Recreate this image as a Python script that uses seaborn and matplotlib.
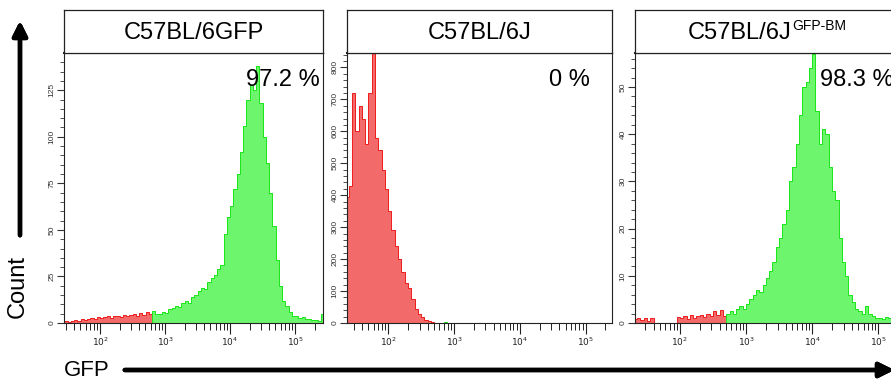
import numpy as np
import pandas as pd
import matplotlib
matplotlib.use('Agg')
import matplotlib.pyplot as plt
import seaborn as sns

sns.set_style('white')
plt.rcParams['font.family'] = ['Liberation Sans', 'DejaVu Sans']
plt.rcParams['text.color'] = 'black'

# ---- data (x = log10 GFP, bins of 0.05 decade, y = events per bin) ----
titles = ['C57BL/6GFP', 'C57BL/6J', 'C57BL/6J']
title_sup = ['', '', 'GFP-BM']
percent_labels = ['97.2 %', '0 %', '98.3 %']
bin_start = [1.45, 1.35, 1.30]
bin_width = 0.05
gate = [2.80, 2.80, 2.70]
y_max = [145, 845, 57.2]
y_major = [25, 100, 10]
y_minor = [5, 20, 2]
decades = [2, 3, 4, 5]

counts_gfp = [1, 0.5, 1, 1.5, 1, 2, 1.5, 2, 2.5, 2, 3, 2.5, 3, 3.5, 2.5, 3.5,
              4, 3, 4.5, 3.5, 4.5, 5, 4, 5.5, 4.5, 6, 5,
              6.5, 5, 5, 6, 5.5, 7.5, 8, 9, 8.5, 11, 12, 11, 14, 15, 17, 19,
              18, 22, 24, 26, 29, 31, 48, 57, 63, 72, 80, 92, 106, 120, 128,
              125, 138, 118, 100, 86, 70, 52, 34, 20, 12, 9, 6, 4, 3.5, 2.5,
              3, 2, 2, 1.5, 1.5, 1, 5]
counts_wt = [395, 430, 720, 600, 680, 640, 560, 720, 845, 580, 540, 480, 420,
             350, 290, 240, 200, 160, 125, 110, 75, 45, 28, 18, 10, 5, 3, 1.5,
             1, 1, 2, 1.5, 1]
counts_bm = [0.8, 1, 0.6, 1, 0.5, 1, 0, 0, 0, 0, 0, 0, 0, 1.3, 1, 1.5, 0.8,
             1.6, 1, 1.4, 1.8, 1.2, 2, 1.5, 2.6, 1.8, 2.8, 1.5,
             2, 2.5, 2, 3, 3.5, 3, 4, 5, 6, 7, 6.5, 8, 9.5, 11, 13, 16, 18,
             21, 24, 30, 33, 38, 44, 50, 51, 54, 57, 45, 38, 41, 40, 33, 28,
             26, 18, 13, 10, 6, 4.5, 3, 2.5, 2, 3.5, 2, 1.5, 1, 1, 0.8, 1.3,
             1, 0.8, 0.6, 0.5, 0.5, 1]
all_counts = [counts_gfp, counts_wt, counts_bm]

# ---- layout (figure pixels) ----
W, H = 891, 382
panel_x = [(64, 323), (347, 612), (635, 906)]
xlims = [(1.446, 5.43), (1.374, 5.40), (1.32, 5.42)]
ax_top, ax_bot, strip_top = 53, 323, 10

neg_fill, neg_line = '#f26a6a', '#ee1c1c'
pos_fill, pos_line = '#6df66d', '#19e619'

fig = plt.figure(figsize=(W / 100, H / 100), dpi=100)


def fx(px):
    return px / W


def fy(py):
    return (H - py) / H


for i in range(3):
    x0, x1 = panel_x[i]
    ax = fig.add_axes([fx(x0), fy(ax_bot), fx(x1 - x0), (ax_bot - ax_top) / H])
    counts = np.array(all_counts[i], dtype=float)
    left = bin_start[i] + bin_width * np.arange(len(counts))
    df = pd.DataFrame({'log_gfp': left + bin_width / 2, 'count': counts})
    edges = np.append(left, left[-1] + bin_width)
    n_neg = int((left < gate[i] - 1e-9).sum())

    sns.histplot(data=df.iloc[:n_neg], x='log_gfp', weights='count',
                 bins=edges[:n_neg + 1].tolist(), element='step', fill=True,
                 facecolor=neg_fill, edgecolor=neg_line, linewidth=0.7, ax=ax)
    if n_neg < len(df):
        sns.histplot(data=df.iloc[n_neg:], x='log_gfp', weights='count',
                     bins=edges[n_neg:].tolist(), element='step', fill=True,
                     facecolor=pos_fill, edgecolor=pos_line, linewidth=0.7, ax=ax)

    ax.set_xlim(*xlims[i])
    ax.set_ylim(0, y_max[i])
    ax.set_xlabel('')
    ax.set_ylabel('')

    ax.set_xticks(decades)
    ax.set_xticklabels([r'$10^{%d}$' % d for d in decades])
    minor = [np.log10(m * 10.0 ** k) for k in range(1, 6) for m in range(2, 10)]
    minor = [v for v in minor if xlims[i][0] <= v <= xlims[i][1]]
    ax.set_xticks(minor, minor=True)
    ax.set_yticks(np.arange(0, y_max[i], y_major[i]))
    ax.set_yticks(np.arange(0, y_max[i], y_minor[i]), minor=True)

    ax.tick_params(axis='x', which='major', direction='out', length=8, width=0.8,
                   pad=1, labelsize=6.5, colors='#222222', bottom=True)
    ax.tick_params(axis='x', which='minor', direction='out', length=5, width=0.7,
                   bottom=True, colors='#222222')
    ax.tick_params(axis='y', which='major', direction='out', length=5, width=0.8,
                   pad=1, labelsize=6, labelrotation=90, colors='#333333', left=True)
    ax.tick_params(axis='y', which='minor', direction='out', length=3, width=0.6,
                   left=True, colors='#333333')
    for lbl in ax.get_yticklabels():
        lbl.set_va('center')
    for sp in ax.spines.values():
        sp.set_visible(True)
        sp.set_color('#222222')
        sp.set_linewidth(0.8)
    ax.spines['top'].set_linewidth(1.5)

    # percentage of GFP+ events
    if i == 2:
        ax.text(0.683, 0.90, percent_labels[i], transform=ax.transAxes,
                ha='left', va='center', fontsize=17, color='black', zorder=5)
    else:
        xr = 0.988 if i == 0 else 0.917
        ax.text(xr, 0.90, percent_labels[i], transform=ax.transAxes,
                ha='right', va='center', fontsize=17, color='black', zorder=5)

    # strip header
    sax = fig.add_axes([fx(x0), fy(ax_top), fx(x1 - x0), (ax_top - strip_top) / H])
    sax.set_xticks([])
    sax.set_yticks([])
    for sp in sax.spines.values():
        sp.set_visible(True)
        sp.set_color('#222222')
        sp.set_linewidth(0.9)
    if title_sup[i]:
        t = sax.text(0.387, 0.47, titles[i], ha='center', va='center',
                     fontsize=17, color='black')
        sax.annotate(title_sup[i], xy=(1.0, 1.0), xycoords=t, ha='left', va='top',
                     xytext=(0, 2), textcoords='offset points', fontsize=10,
                     color='black')
    else:
        sax.text(0.5, 0.47, titles[i], ha='center', va='center', fontsize=17,
                 color='black')

# axis titles with arrows
fig.text(fx(18), fy(287), 'Count', rotation=90, ha='center', va='center',
         fontsize=17, color='black')
fig.text(fx(87), fy(371), 'GFP', ha='center', va='center', fontsize=16, color='black')
fig.add_artist(plt.annotate('', xy=(20, H - 18), xytext=(20, H - 238),
                            xycoords='figure pixels', textcoords='figure pixels',
                            arrowprops=dict(arrowstyle='-|>', lw=3.2, color='black',
                                            mutation_scale=22)))
fig.add_artist(plt.annotate('', xy=(897, H - 370), xytext=(122, H - 370),
                            xycoords='figure pixels', textcoords='figure pixels',
                            arrowprops=dict(arrowstyle='-|>', lw=3.2, color='black',
                                            mutation_scale=22)))

fig.savefig('out.png', dpi=100)
